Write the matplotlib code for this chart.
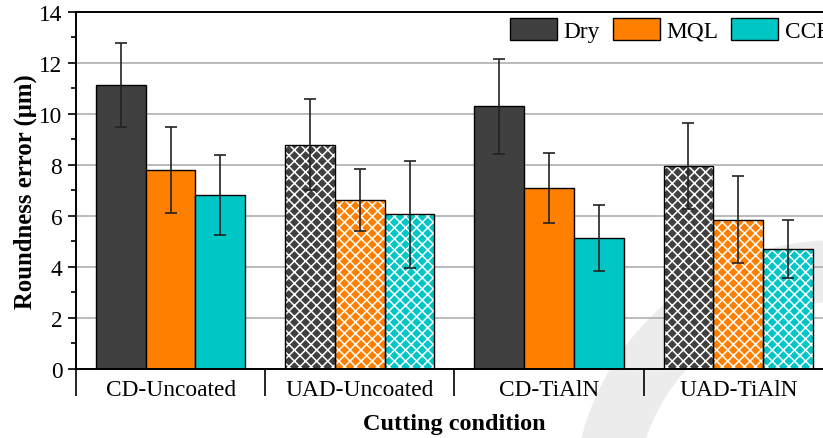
import matplotlib
matplotlib.use("Agg")
import matplotlib.pyplot as plt
import numpy as np
from matplotlib.patches import Wedge

categories = ["CD-Uncoated", "UAD-Uncoated", "CD-TiAlN", "UAD-TiAlN"]
series = ["Dry", "MQL", "CCF"]
dry = [11.15, 8.80, 10.30, 7.95]
mql = [7.80, 6.63, 7.10, 5.85]
ccf = [6.83, 6.06, 5.13, 4.70]
dry_err = [1.65, 1.80, 1.85, 1.68]
mql_err = [1.70, 1.20, 1.38, 1.70]
ccf_err = [1.57, 2.10, 1.29, 1.13]
hatched = [False, True, False, True]
colors = ["#404040", "#FF8000", "#00C6C6"]

plt.rcParams['font.family'] = ['Liberation Serif', 'DejaVu Serif']
plt.rcParams['hatch.linewidth'] = 1.1

fig = plt.figure(figsize=(8.23, 4.39), dpi=100)

# faint watermark arc
w = Wedge((8.37, -0.66), 2.64, 60, 200, width=0.62, transform=fig.dpi_scale_trans,
          facecolor="#ececec", edgecolor="none", zorder=-5)
fig.patches.append(w)

ax = fig.add_axes([0.0923, 0.1572, 1.012 - 0.0923, 0.8132])
ax.set_facecolor("none")

x = np.arange(len(categories))
width = 0.263
vals = [dry, mql, ccf]
errs = [dry_err, mql_err, ccf_err]
for i, (v, e, c, name) in enumerate(zip(vals, errs, colors, series)):
    pos = x + (i - 1) * width
    for j in range(len(categories)):
        if hatched[j]:
            ax.bar(pos[j], v[j], width, color=c, edgecolor="white", linewidth=0,
                   hatch="xxx", zorder=2)
            ax.bar(pos[j], v[j], width, fill=False, edgecolor="black", linewidth=1.0, zorder=3)
        else:
            ax.bar(pos[j], v[j], width, color=c, edgecolor="black", linewidth=1.0, zorder=2,
                   label=name if j == 0 else None)
    ax.errorbar(pos, v, yerr=e, fmt="none", ecolor="#222222", elinewidth=1.2,
                capsize=4.5, capthick=1.2, zorder=4)

ax.set_ylim(0, 14)
ax.set_xlim(-0.5, 3.5)
ax.set_yticks(np.arange(0, 15, 2))
ax.set_yticks(np.arange(1, 14, 2), minor=True)
ax.tick_params(axis='y', which='major', direction='out', length=5.8, width=1.2,
               labelsize=16.8, pad=4)
ax.tick_params(axis='y', which='minor', direction='out', length=3.5, width=1.2)
ax.set_xticks([-0.5, 0.5, 1.5, 2.5, 3.5])
ax.set_xticklabels([])
ax.set_xticks(x, minor=True)
ax.set_xticklabels(categories, minor=True)
ax.tick_params(axis='x', which='major', direction='out', length=19.5, width=1.2)
ax.tick_params(axis='x', which='minor', length=0, labelsize=16.8, pad=7)

ax.grid(axis='y', which='major', color="#a8a8a8", linewidth=1.1, zorder=0)
ax.set_axisbelow(True)
for s in ["left", "bottom", "top", "right"]:
    ax.spines[s].set_linewidth(1.4)
    ax.spines[s].set_color("black")

ax.set_ylabel("Roundness error (μm)", fontsize=17.8, fontweight="bold", labelpad=1.5)
ax.set_xlabel("Cutting condition", fontsize=17.5, fontweight="bold", labelpad=9)

leg = fig.legend(loc="upper left", bbox_to_anchor=(510 / 823, 1 - 19 / 439), ncol=3,
                 frameon=False, fontsize=16.8, handlelength=2.0, handleheight=1.05,
                 handletextpad=0.3, columnspacing=0.55, borderaxespad=0, borderpad=0)

fig.savefig("out.png", dpi=100)
